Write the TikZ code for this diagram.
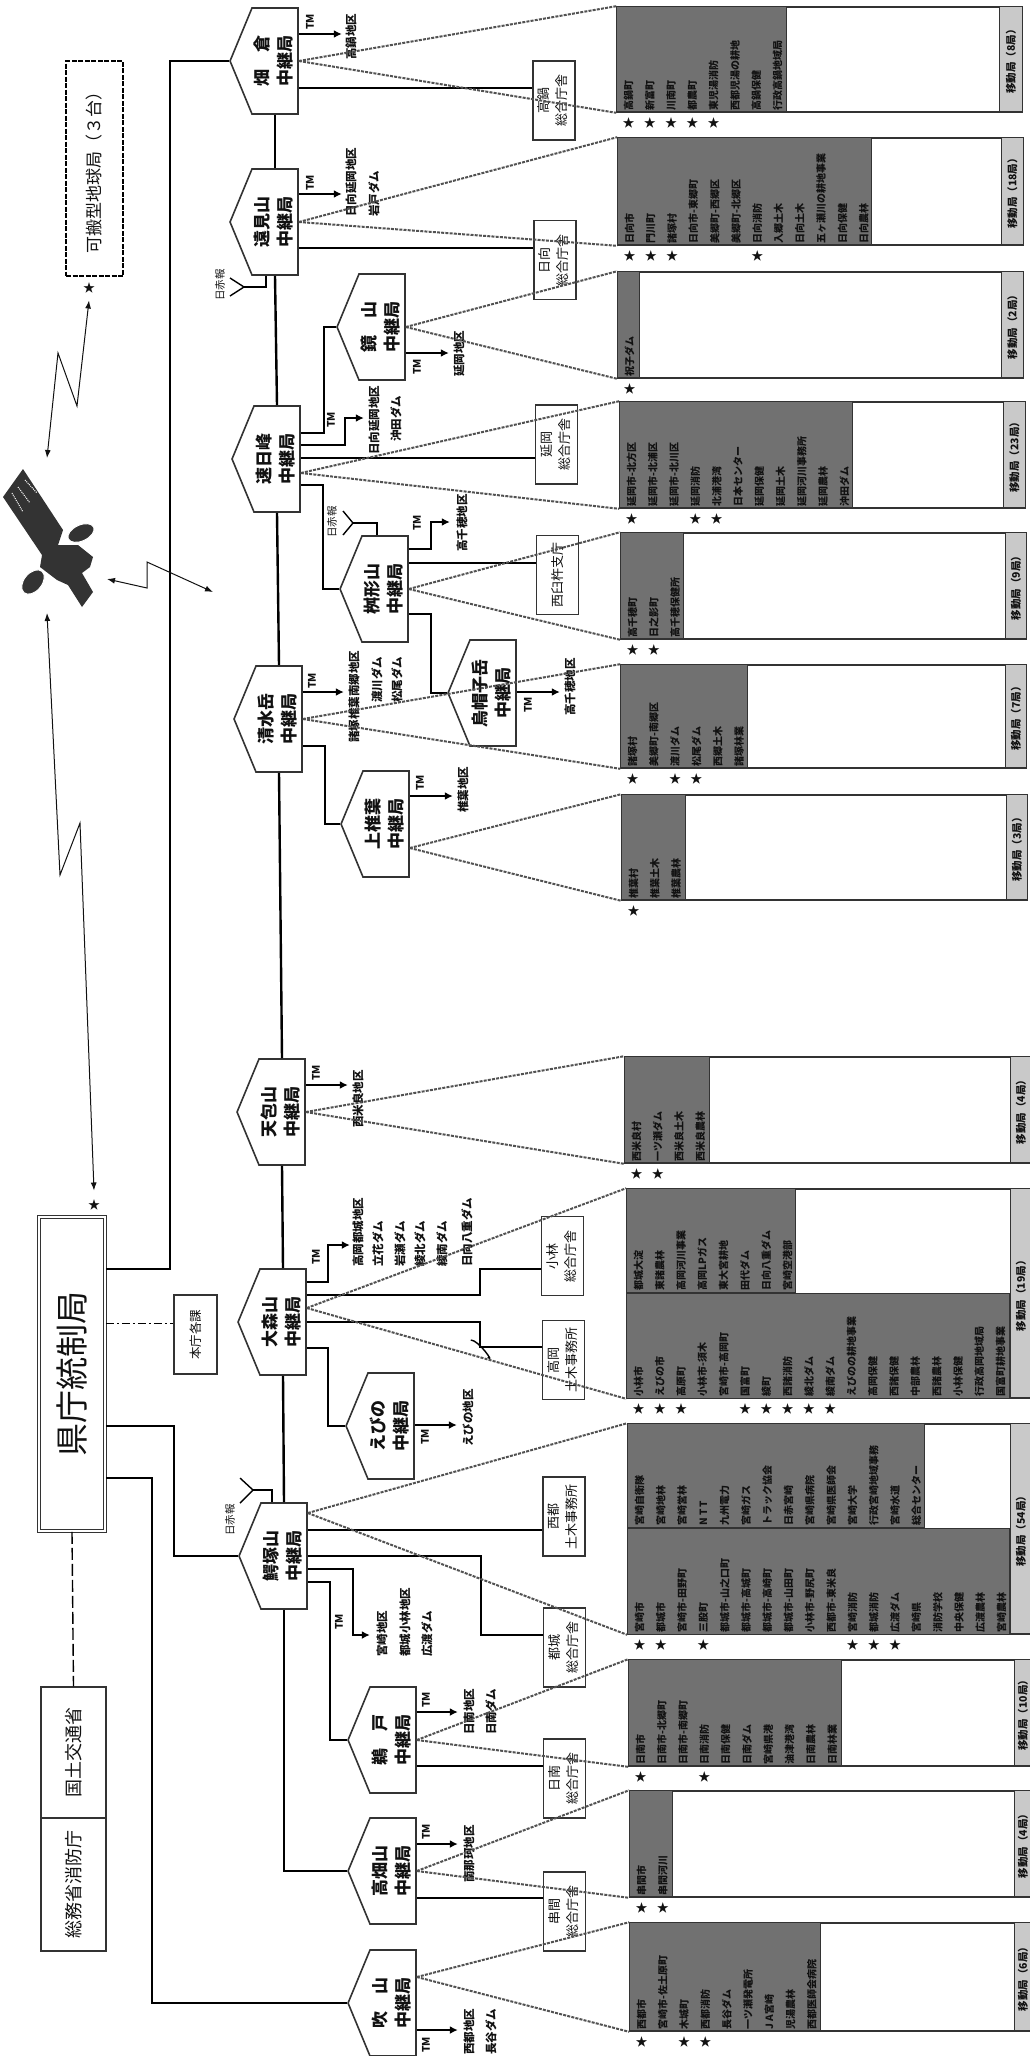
\documentclass[tikz,border=0pt]{standalone}
\usepackage{fontspec}
\setmainfont{Noto Sans CJK JP}
\usetikzlibrary{arrows.meta,calc,shapes.symbols}
\definecolor{ink}{HTML}{111111}
\definecolor{slate}{HTML}{717171}
\definecolor{pale}{HTML}{C9C9C9}
\definecolor{rim}{HTML}{333333}
\newcommand{\vone}[1]{\rotatebox{90}{#1}}
\newcommand{\vtwo}[2]{\rotatebox{90}{\begin{tabular}{@{}c@{}}#1\\#2\end{tabular}}}
\begin{document}
\begin{tikzpicture}[x=1pt,y=-1pt,every node/.style={text=ink},
station/.style={draw=rim,line width=1.6pt,fill=white,shape=signal,signal to=west,signal from=nowhere,signal pointer angle=135,minimum width=65pt,minimum height=106pt,inner sep=0pt,font=\fontsize{17}{23}\selectfont\bfseries},
office/.style={draw=rim,line width=1.4pt,fill=white,minimum width=42pt,minimum height=79pt,inner sep=0pt,font=\fontsize{13}{18}\selectfont},
panelbox/.style={draw=rim,line width=1.6pt,fill=white,inner sep=0pt},
darkbox/.style={draw=rim,line width=0.8pt,fill=slate,inner sep=0pt,anchor=north west},
bandbox/.style={draw=rim,line width=0.8pt,fill=pale,inner sep=0pt,anchor=north east,font=\fontsize{10.5}{11}\selectfont\bfseries},
rowtxt/.style={rotate=90,anchor=west,inner sep=0pt,font=\fontsize{10}{10}\selectfont\bfseries},
starmark/.style={inner sep=0pt,font=\fontsize{12}{12}\selectfont},
arealbl/.style={rotate=90,anchor=west,inner sep=0pt,font=\fontsize{11.5}{12}\selectfont\bfseries},
tmlbl/.style={rotate=90,inner sep=0pt,font=\fontsize{10.5}{11}\selectfont\bfseries},
wire/.style={draw=black,line width=2.4pt},
thinwire/.style={draw=black,line width=1.4pt},
tmarrow/.style={draw=black,line width=1.8pt,-{Latex[length=8pt,width=8pt]}},
radio/.style={draw=ink,line width=1pt,{Latex[length=8pt,width=6pt]}-{Latex[length=8pt,width=6pt]}},
fan/.style={draw=rim!85,line width=2pt,dash pattern=on 3pt off 1.2pt}]
\useasboundingbox (0,0) rectangle (1029,2056);
\fill[white] (0,0) rectangle (1029,2056);

\node[draw=rim,line width=1.6pt,double,double distance=1.5pt,fill=white,minimum width=66pt,minimum height=314pt,inner sep=0pt,font=\fontsize{33}{33}\selectfont] (kensei) at (72,1374) {\vone{県庁統制局}};
\node[draw=rim,line width=1.4pt,fill=white,minimum width=65pt,minimum height=131pt,inner sep=0pt,font=\fontsize{18}{18}\selectfont] (mlit) at (73.5,1752.5) {\vone{国土交通省}};
\node[draw=rim,line width=1.4pt,fill=white,minimum width=65pt,minimum height=133pt,inner sep=0pt,font=\fontsize{18}{18}\selectfont] (fdma) at (73.5,1884.5) {\vone{総務省消防庁}};
\node[draw=rim,line width=1.4pt,fill=white,minimum width=43pt,minimum height=79pt,inner sep=0pt,font=\fontsize{12.5}{13}\selectfont] (honcho) at (195.5,1334.5) {\vone{本庁各課}};
\node[draw=black,line width=2.6pt,dash pattern=on 5pt off 1.5pt,minimum width=57pt,minimum height=215pt,inner sep=0pt,font=\fontsize{17}{17}\selectfont] (portable) at (94.5,168.5) {\vone{可搬型地球局（３台）}};
\node[starmark] (portablestar) at (89,288) {★};
\node[starmark] (kenseistar) at (94,1205) {★};

\node[panelbox,minimum width=405pt,minimum height=105pt] (hatapanel) at (819.5,59.5) {};
\node[darkbox,minimum width=170pt,minimum height=105pt] (hatadark) at (hatapanel.north west) {};
\node[bandbox,minimum width=23pt,minimum height=105pt] (hataband) at (hatapanel.north east) {\vone{移動局（8局）}};
\foreach \txt [count=\k] in {高鍋町,新富町,川南町,都農町,東児湯消防,西都児湯の耕地,高鍋保健,行政高鍋地域局} \node[rowtxt] (hatarow\k) at ($(hatapanel.south west)+(21.3*\k-9,-2)$) {\txt};
\foreach \k in {1,2,3,4,5} \node[starmark] (hatastar\k) at ($(hatapanel.south west)+(21.3*\k-9,10)$) {★};

\node[panelbox,minimum width=405pt,minimum height=107pt] (tomipanel) at (820.5,191.5) {};
\node[darkbox,minimum width=254pt,minimum height=107pt] (tomidark) at (tomipanel.north west) {};
\node[bandbox,minimum width=22pt,minimum height=107pt] (tomiband) at (tomipanel.north east) {\vone{移動局（18局）}};
\foreach \txt [count=\k] in {日向市,門川町,諸塚村,日向市-東郷町,美郷町-西郷区,美郷町-北郷区,日向消防,入郷土木,日向土木,五ヶ瀬川の耕地事業,日向保健,日向農林} \node[rowtxt] (tomirow\k) at ($(tomipanel.south west)+(21.3*\k-9,-2)$) {\txt};
\foreach \k in {1,2,3,7} \node[starmark] (tomistar\k) at ($(tomipanel.south west)+(21.3*\k-9,10)$) {★};

\node[panelbox,minimum width=405pt,minimum height=106pt] (kagamipanel) at (820.5,325) {};
\node[darkbox,minimum width=22pt,minimum height=106pt] (kagamidark) at (kagamipanel.north west) {};
\node[bandbox,minimum width=22pt,minimum height=106pt] (kagamiband) at (kagamipanel.north east) {\vone{移動局（2局）}};
\node[rowtxt] (kagamirow1) at ($(kagamipanel.south west)+(12.3,-2)$) {祝子ダム};
\node[starmark] (kagamistar1) at ($(kagamipanel.south west)+(12.3,10)$) {★};

\node[panelbox,minimum width=405pt,minimum height=106pt] (hayahipanel) at (822.5,455) {};
\node[darkbox,minimum width=233pt,minimum height=106pt] (hayahidark) at (hayahipanel.north west) {};
\node[bandbox,minimum width=22pt,minimum height=106pt] (hayahiband) at (hayahipanel.north east) {\vone{移動局（23局）}};
\foreach \txt [count=\k] in {延岡市-北方区,延岡市-北浦区,延岡市-北川区,延岡消防,北浦港湾,日本センター,延岡保健,延岡土木,延岡河川事務所,延岡農林,沖田ダム} \node[rowtxt] (hayahirow\k) at ($(hayahipanel.south west)+(21.3*\k-9,-2)$) {\txt};
\foreach \k in {1,4,5} \node[starmark] (hayahistar\k) at ($(hayahipanel.south west)+(21.3*\k-9,10)$) {★};

\node[panelbox,minimum width=405pt,minimum height=106pt] (masupanel) at (823.5,586) {};
\node[darkbox,minimum width=63pt,minimum height=106pt] (masudark) at (masupanel.north west) {};
\node[bandbox,minimum width=21pt,minimum height=106pt] (masuband) at (masupanel.north east) {\vone{移動局（9局）}};
\foreach \txt [count=\k] in {高千穂町,日之影町,高千穂保健所} \node[rowtxt] (masurow\k) at ($(masupanel.south west)+(21.3*\k-9,-2)$) {\txt};
\foreach \k in {1,2} \node[starmark] (masustar\k) at ($(masupanel.south west)+(21.3*\k-9,10)$) {★};

\node[panelbox,minimum width=405pt,minimum height=103pt] (shimizupanel) at (823.5,716.5) {};
\node[darkbox,minimum width=127pt,minimum height=103pt] (shimizudark) at (shimizupanel.north west) {};
\node[bandbox,minimum width=21pt,minimum height=103pt] (shimizuband) at (shimizupanel.north east) {\vone{移動局（7局）}};
\foreach \txt [count=\k] in {諸塚村,美郷町-南郷区,渡川ダム,松尾ダム,西郷土木,諸塚林業} \node[rowtxt] (shimizurow\k) at ($(shimizupanel.south west)+(21.3*\k-9,-2)$) {\txt};
\foreach \k in {1,3,4} \node[starmark] (shimizustar\k) at ($(shimizupanel.south west)+(21.3*\k-9,10)$) {★};

\node[panelbox,minimum width=405pt,minimum height=105pt] (kamipanel) at (824.5,847.5) {};
\node[darkbox,minimum width=64pt,minimum height=105pt] (kamidark) at (kamipanel.north west) {};
\node[bandbox,minimum width=21pt,minimum height=105pt] (kamiband) at (kamipanel.north east) {\vone{移動局（3局）}};
\foreach \txt [count=\k] in {椎葉村,椎葉土木,椎葉農林} \node[rowtxt] (kamirow\k) at ($(kamipanel.south west)+(21.3*\k-9,-2)$) {\txt};
\node[starmark] (kamistar1) at ($(kamipanel.south west)+(12.3,10)$) {★};

\node[panelbox,minimum width=406pt,minimum height=106pt] (tenpopanel) at (828,1110) {};
\node[darkbox,minimum width=85pt,minimum height=106pt] (tenpodark) at (tenpopanel.north west) {};
\node[bandbox,minimum width=21pt,minimum height=106pt] (tenpoband) at (tenpopanel.north east) {\vone{移動局（4局）}};
\foreach \txt [count=\k] in {西米良村,一ツ瀬ダム,西米良土木,西米良農林} \node[rowtxt] (tenporow\k) at ($(tenpopanel.south west)+(21.3*\k-9,-2)$) {\txt};
\foreach \k in {1,2} \node[starmark] (tenpostar\k) at ($(tenpopanel.south west)+(21.3*\k-9,10)$) {★};

\node[panelbox,minimum width=404pt,minimum height=209pt] (omoripanel) at (829,1293.5) {};
\node[darkbox,minimum width=169pt,minimum height=104pt] (omoridarka) at (omoripanel.north west) {};
\node[darkbox,minimum width=383pt,minimum height=105pt,anchor=south west] (omoridarkb) at (omoripanel.south west) {};
\node[bandbox,minimum width=21pt,minimum height=209pt] (omoriband) at (omoripanel.north east) {\vone{移動局（19局）}};
\foreach \txt [count=\k] in {都城大淀,東諸農林,高岡河川事業,高岡LPガス,東大宮耕地,田代ダム,日向八重ダム,宮崎空港部} \node[rowtxt] (omorirowa\k) at ($(omoridarka.south west)+(21.3*\k-9,-2)$) {\txt};
\foreach \txt [count=\k] in {小林市,えびの市,高原町,小林市-須木,宮崎市-高岡町,国富町,綾町,西諸消防,綾北ダム,綾南ダム,えびのの耕地事業,高岡保健,西諸保健,中部農林,西諸農林,小林保健,行政高岡地域局,国富町耕地事業} \node[rowtxt] (omorirowb\k) at ($(omoripanel.south west)+(21.3*\k-9,-2)$) {\txt};
\foreach \k in {1,2,3,6,7,8,9,10} \node[starmark] (omoristar\k) at ($(omoripanel.south west)+(21.3*\k-9,10)$) {★};

\node[panelbox,minimum width=403pt,minimum height=210pt] (wanipanel) at (829.5,1529) {};
\node[darkbox,minimum width=297pt,minimum height=104pt] (wanidarka) at (wanipanel.north west) {};
\node[darkbox,minimum width=382pt,minimum height=106pt,anchor=south west] (wanidarkb) at (wanipanel.south west) {};
\node[bandbox,minimum width=21pt,minimum height=210pt] (waniband) at (wanipanel.north east) {\vone{移動局（54局）}};
\foreach \txt [count=\k] in {宮崎自衛隊,宮崎地林,宮崎営林,N T T,九州電力,宮崎ガス,トラック協会,日赤宮崎,宮崎県病院,宮崎県医師会,宮崎大学,行政宮崎地域事務,宮崎水道,総合センター} \node[rowtxt] (wanirowa\k) at ($(wanidarka.south west)+(21.3*\k-9,-2)$) {\txt};
\foreach \txt [count=\k] in {宮崎市,都城市,宮崎市-田野町,三股町,都城市-山之口町,都城市-高城町,都城市-高崎町,都城市-山田町,小林市-野尻町,西都市-東米良,宮崎消防,都城消防,広渡ダム,宮崎県,消防学校,中央保健,広渡農林,宮崎農林} \node[rowtxt] (wanirowb\k) at ($(wanipanel.south west)+(21.3*\k-9,-2)$) {\txt};
\foreach \k in {1,2,4,11,12,13} \node[starmark] (wanistar\k) at ($(wanipanel.south west)+(21.3*\k-9,10)$) {★};

\node[panelbox,minimum width=402pt,minimum height=106pt] (udopanel) at (830,1713) {};
\node[darkbox,minimum width=213pt,minimum height=106pt] (ododark) at (udopanel.north west) {};
\node[bandbox,minimum width=17pt,minimum height=106pt] (udoband) at (udopanel.north east) {\vone{移動局（10局）}};
\foreach \txt [count=\k] in {日南市,日南市-北郷町,日南市-南郷町,日南消防,日南保健,日南ダム,宮崎県港,油津港湾,日南農林,日南林業} \node[rowtxt] (udorow\k) at ($(udopanel.south west)+(21.3*\k-9,-2)$) {\txt};
\foreach \k in {1,4} \node[starmark] (udostar\k) at ($(udopanel.south west)+(21.3*\k-9,10)$) {★};

\node[panelbox,minimum width=401pt,minimum height=106pt] (takapanel) at (830.5,1844) {};
\node[darkbox,minimum width=43pt,minimum height=106pt] (takadark) at (takapanel.north west) {};
\node[bandbox,minimum width=17pt,minimum height=106pt] (takaband) at (takapanel.north east) {\vone{移動局（4局）}};
\foreach \txt [count=\k] in {串間市,串間河川} \node[rowtxt] (takarow\k) at ($(takapanel.south west)+(21.3*\k-9,-2)$) {\txt};
\foreach \k in {1,2} \node[starmark] (takastar\k) at ($(takapanel.south west)+(21.3*\k-9,10)$) {★};

\node[panelbox,minimum width=401pt,minimum height=108pt] (fukipanel) at (830.5,1977) {};
\node[darkbox,minimum width=191pt,minimum height=108pt] (fukidark) at (fukipanel.north west) {};
\node[bandbox,minimum width=17pt,minimum height=108pt] (fukiband) at (fukipanel.north east) {\vone{移動局（6局）}};
\foreach \txt [count=\k] in {西都市,宮崎市-佐土原町,木城町,西都消防,長谷ダム,一ツ瀬発電所,J A宮崎,児湯農林,西都医師会病院} \node[rowtxt] (fukirow\k) at ($(fukipanel.south west)+(21.3*\k-9,-2)$) {\txt};
\foreach \k in {1,3,4} \node[starmark] (fukistar\k) at ($(fukipanel.south west)+(21.3*\k-9,10)$) {★};

\node[station] (hata) at (275,61) {\vtwo{畑　倉}{中継局}};
\node[station] (tomi) at (275,222) {\vtwo{遠見山}{中継局}};
\node[station] (kagami) at (382,327) {\vtwo{鏡　山}{中継局}};
\node[station] (hayahi) at (277,459) {\vtwo{速日峰}{中継局}};
\node[station] (masu) at (385,589) {\vtwo{桝形山}{中継局}};
\node[station] (eboshi) at (493,693) {\vtwo{烏帽子岳}{中継局}};
\node[station] (shimizu) at (279,719) {\vtwo{清水岳}{中継局}};
\node[station] (kami) at (386,824) {\vtwo{上椎葉}{中継局}};
\node[station] (tenpo) at (282,1112) {\vtwo{天包山}{中継局}};
\node[station] (omori) at (283,1322) {\vtwo{大森山}{中継局}};
\node[station] (ebino) at (391,1426) {\vtwo{えびの}{中継局}};
\node[station] (wani) at (284,1556) {\vtwo{鰐塚山}{中継局}};
\node[station] (udo) at (393,1740) {\vtwo{鵜　戸}{中継局}};
\node[station] (taka) at (393,1871) {\vtwo{高畑山}{中継局}};
\node[station] (fuki) at (393,2003) {\vtwo{吹　山}{中継局}};

\node[office] (takanabe) at (554,100.5) {\vtwo{高鍋}{総合庁舎}};
\node[office] (hyuga) at (555,260) {\vtwo{日向}{総合庁舎}};
\node[office] (nobeoka) at (556.5,444.5) {\vtwo{延岡}{総合庁舎}};
\node[office] (nishiusuki) at (557.5,575) {\vone{西臼杵支庁}};
\node[office] (kobayashi) at (562.5,1256) {\vtwo{小林}{総合庁舎}};
\node[office] (takaoka) at (563.5,1360) {\vtwo{高岡}{土木事務所}};
\node[office] (saito) at (564,1516.5) {\vtwo{西都}{土木事務所}};
\node[office] (miyakonojo) at (564.5,1647.5) {\vtwo{都城}{総合庁舎}};
\node[office] (nichinan) at (564.5,1778.5) {\vtwo{日南}{総合庁舎}};
\node[office] (kushima) at (564.5,1911.5) {\vtwo{串間}{総合庁舎}};

\coordinate (honchoport) at ([yshift=11pt]honcho.west);
\draw[wire] ([yshift=105pt]kensei.east) -- ++(64,0) |- (hata.west);
\draw[wire] ([yshift=-52pt]kensei.east) -- ++(68,0) |- (wani.west);
\draw[wire,line width=1.9pt] ([yshift=-104pt]kensei.east) -- ++(46,0) |- (fuki.west);
\draw[thinwire,dash pattern=on 8pt off 3pt on 2pt off 3pt] (kensei.east |- honchoport) -- (honchoport);
\draw[thinwire,dash pattern=on 12pt off 4pt] (kensei.south) -- (mlit.north);
\draw[wire] (hata.south) -- (tomi.north);
\draw[wire] (tomi.south) -- (hayahi.north);
\draw[wire] (hayahi.south) -- (shimizu.north);
\draw[wire] (shimizu.south) -- (tenpo.north);
\draw[wire] (tenpo.south) -- (omori.north);
\draw[wire] (omori.south) -- (wani.north);
\draw[wire] (wani.south) |- (taka.west);
\draw[wire] ([yshift=26pt]hayahi.east) -- ++(23,0) |- (kagami.west);
\draw[wire] ([yshift=-26pt]hayahi.east) -- ++(22,0) |- (masu.west);
\draw[wire] ([yshift=-25pt]masu.east) -- ++(22,0) |- (eboshi.west);
\draw[wire] ([yshift=-27pt]shimizu.east) -- ++(22,0) |- (kami.west);
\draw[wire] ([yshift=-26pt]omori.east) -- ++(21,0) |- (ebino.west);
\draw[wire] ([yshift=-26pt]wani.east) -- ++(22,0) |- (udo.west);
\draw[wire] ([yshift=-27pt]hata.east) -- ([yshift=12.5pt]takanabe.west);
\draw[wire] ([yshift=-26pt]tomi.east) -- ([yshift=12pt]hyuga.west);
\draw[wire] ([yshift=1pt]hayahi.east) -- ([yshift=-13.5pt]nobeoka.west);
\draw[wire] ([yshift=26pt]masu.east) -- ([yshift=12pt]nishiusuki.west);
\draw[wire] ([yshift=27pt]omori.east) -- ++(173,0) |- ([yshift=-13pt]kobayashi.west);
\draw[wire] (omori.east) -- ++(173,0) |- ([yshift=13pt]takaoka.west);
\draw[thinwire] ([yshift=20pt]takaoka.west) ++(-71,0) .. controls +(8,0) and +(8,8) .. +(17,17);
\draw[wire] ([yshift=26pt]wani.east) -- ([yshift=-13.5pt]saito.west);
\draw[wire] (wani.east) -- ++(173,0) |- ([yshift=12.5pt]miyakonojo.west);
\draw[wire] ([yshift=-26pt]udo.east) -- ([yshift=12.5pt]nichinan.west);
\draw[wire] ([yshift=-27pt]taka.east) -- ([yshift=13.5pt]kushima.west);

\draw[tmarrow] ([yshift=27pt]hata.east) -- ++(43,0);
\draw[tmarrow] ([yshift=28pt]tomi.east) -- ++(43,0);
\draw[tmarrow] ([yshift=-26pt]kagami.east) -- ++(43,0);
\draw[tmarrow] ([yshift=14pt]hayahi.east) -- ++(44,0) -- ++(0,-27) -- ++(19,0);
\draw[tmarrow] ([yshift=40pt]masu.east) -- ++(22,0) -- ++(0,-27) -- ++(19,0);
\draw[tmarrow] ([yshift=1pt]eboshi.east) -- ++(43,0);
\draw[tmarrow] ([yshift=27pt]shimizu.east) -- ++(41,0);
\draw[tmarrow] ([yshift=28pt]kami.east) -- ++(43,0);
\draw[tmarrow] ([yshift=27pt]tenpo.east) -- ++(42,0);
\draw[tmarrow] ([yshift=40pt]omori.east) -- ++(21,0) -- ++(0,-37) -- ++(22,0);
\draw[tmarrow] ([yshift=1pt]ebino.east) -- ++(42,0);
\draw[tmarrow] ([yshift=-13pt]wani.east) -- ++(45,0) -- ++(0,66) -- ++(17,0);
\draw[tmarrow] ([yshift=28pt]udo.east) -- ++(41,0);
\draw[tmarrow] ([yshift=27pt]taka.east) -- ++(41,0);
\draw[tmarrow] ([yshift=-27pt]fuki.east) -- ++(41,0);

\node[tmlbl] (tm1) at (310,22) {TM};
\node[tmlbl] (tm2) at (310,183) {TM};
\node[tmlbl] (tm3) at (417,367) {TM};
\node[tmlbl] (tm4) at (331,420) {TM};
\node[tmlbl] (tm5) at (417,523) {TM};
\node[tmlbl] (tm6) at (528,705) {TM};
\node[tmlbl] (tm7) at (312,681) {TM};
\node[tmlbl] (tm8) at (420,783) {TM};
\node[tmlbl] (tm9) at (316,1073) {TM};
\node[tmlbl] (tm10) at (316,1257) {TM};
\node[tmlbl] (tm11) at (425,1437) {TM};
\node[tmlbl] (tm12) at (339,1622) {TM};
\node[tmlbl] (tm13) at (426,1700) {TM};
\node[tmlbl] (tm14) at (426,1832) {TM};
\node[tmlbl] (tm15) at (426,2045) {TM};

\node[arealbl] (area1) at (351,60) {高鍋地区};
\node[arealbl] (area2) at (351,217) {日向延岡地区};
\node[arealbl] (area3) at (374,217) {岩戸ダム};
\node[arealbl] (area4) at (459,377) {延岡地区};
\node[arealbl] (area5) at (374,455) {日向延岡地区};
\node[arealbl] (area6) at (396,442) {沖田ダム};
\node[arealbl] (area7) at (462,552) {高千穂地区};
\node[arealbl] (area8) at (570,716) {高千穂地区};
\node[arealbl] (area9) at (354,743) {諸塚椎葉南郷地区};
\node[arealbl] (area10) at (377,703) {渡川ダム};
\node[arealbl] (area11) at (397,703) {松尾ダム};
\node[arealbl] (area12) at (463,813) {椎葉地区};
\node[arealbl] (area13) at (358,1128) {西米良地区};
\node[arealbl] (area14) at (358,1267) {高岡都城地区};
\node[arealbl] (area15) at (378,1267) {立花ダム};
\node[arealbl] (area16) at (400,1267) {岩瀬ダム};
\node[arealbl] (area17) at (420,1267) {綾北ダム};
\node[arealbl] (area18) at (442,1267) {綾南ダム};
\node[arealbl] (area19) at (467,1267) {日向八重ダム};
\node[arealbl] (area20) at (468,1447) {えびの地区};
\node[arealbl] (area21) at (382,1657) {宮崎地区};
\node[arealbl] (area22) at (405,1657) {都城小林地区};
\node[arealbl] (area23) at (427,1657) {広渡ダム};
\node[arealbl] (area24) at (469,1735) {日南地区};
\node[arealbl] (area25) at (491,1735) {日南ダム};
\node[arealbl] (area26) at (469,1883) {南那珂地区};
\node[arealbl] (area27) at (469,2055) {西都地区};
\node[arealbl] (area28) at (491,2055) {長谷ダム};

\coordinate (tomiant) at (244,287);
\coordinate (masuant) at (353,523);
\coordinate (waniant) at (253,1490);
\draw[thinwire] ([xshift=-9pt]tomi.south) |- (tomiant);
\draw[thinwire] ([xshift=-8pt]masu.north) |- (masuant);
\draw[thinwire] ([xshift=-12pt]wani.north) |- (waniant);
\draw[thinwire] (tomiant) ++(-14,-9) -- (tomiant) -- ++(-14,9);
\draw[thinwire] (masuant) ++(-10,-12) -- (masuant) -- ++(-10,12);
\draw[thinwire] (waniant) ++(-13,-12) -- (waniant) -- ++(-13,13);
\node[arealbl,anchor=center,font=\fontsize{10.5}{11}\selectfont] (tomired) at (220,285) {日赤報};
\node[arealbl,anchor=center,font=\fontsize{10.5}{11}\selectfont] (masured) at (332,522) {日赤報};
\node[arealbl,anchor=center,font=\fontsize{10.5}{11}\selectfont] (wanired) at (230,1520) {日赤報};

\draw[fan] (hata.east) -- (hatapanel.north west);
\draw[fan] (hata.east) -- (hatapanel.south west);
\draw[fan] (tomi.east) -- (tomipanel.north west);
\draw[fan] (tomi.east) -- (tomipanel.south west);
\draw[fan] (kagami.east) -- (kagamipanel.north west);
\draw[fan] (kagami.east) -- (kagamipanel.south west);
\draw[fan] ([yshift=-14pt]hayahi.east) -- (hayahipanel.north west);
\draw[fan] ([yshift=-14pt]hayahi.east) -- (hayahipanel.south west);
\draw[fan] (masu.east) -- (masupanel.north west);
\draw[fan] (masu.east) -- (masupanel.south west);
\draw[fan] (shimizu.east) -- (shimizupanel.north west);
\draw[fan] (shimizu.east) -- (shimizupanel.south west);
\draw[fan] ([yshift=-24pt]kami.east) -- (kamipanel.north west);
\draw[fan] ([yshift=-24pt]kami.east) -- (kamipanel.south west);
\draw[fan] (tenpo.east) -- (tenpopanel.north west);
\draw[fan] (tenpo.east) -- (tenpopanel.south west);
\draw[fan] ([yshift=14pt]omori.east) -- (omoripanel.north west);
\draw[fan] ([yshift=14pt]omori.east) -- (omoripanel.south west);
\draw[fan] ([yshift=43pt]wani.east) -- (wanipanel.north west);
\draw[fan] ([yshift=43pt]wani.east) -- (wanipanel.south west);
\draw[fan] (udo.east) -- (udopanel.north west);
\draw[fan] (udo.east) -- (udopanel.south west);
\draw[fan] (taka.east) -- (takapanel.north west);
\draw[fan] (taka.east) -- (takapanel.south west);
\draw[fan] ([yshift=26pt]fuki.east) -- (fukipanel.north west);
\draw[fan] ([yshift=26pt]fuki.east) -- (fukipanel.south west);

\fill[rim] (3,497) -- (23,469) -- (63,530) -- (58,545) -- (78,545) -- (93,557) -- (90,567) -- (82,573) -- (93,592) -- (82,607) -- (68,585) -- (57,580) -- (40,567) -- (42,555) -- cycle;
\filldraw[fill=rim,draw=white,line width=1pt,rotate around={25:(81,533)}] (81,533) ellipse (14 and 8);
\filldraw[fill=rim,draw=white,line width=1pt,rotate around={50:(33,582)}] (33,582) ellipse (14 and 9);
\draw[white,line width=1pt,densely dotted] (12,493) -- (23,512);
\draw[white,line width=1pt,densely dotted] (18,487) -- (30,503);
\draw[white,line width=1pt,densely dotted] (25,480) -- (37,493);

\coordinate (satup) at (47,458);
\coordinate (satdown) at (47,613);
\coordinate (satright) at (107,579);
\coordinate (ground) at (213,592);
\draw[radio] ([yshift=-7pt]portablestar.south) -- (77,406) -- (58,353) -- (satup);
\draw[radio] (satright) -- (147,588) -- (147,562) -- (ground);
\draw[radio] (satdown) -- (60,875) -- (80,823) -- ([yshift=9pt]kenseistar.north);
\end{tikzpicture}
\end{document}
